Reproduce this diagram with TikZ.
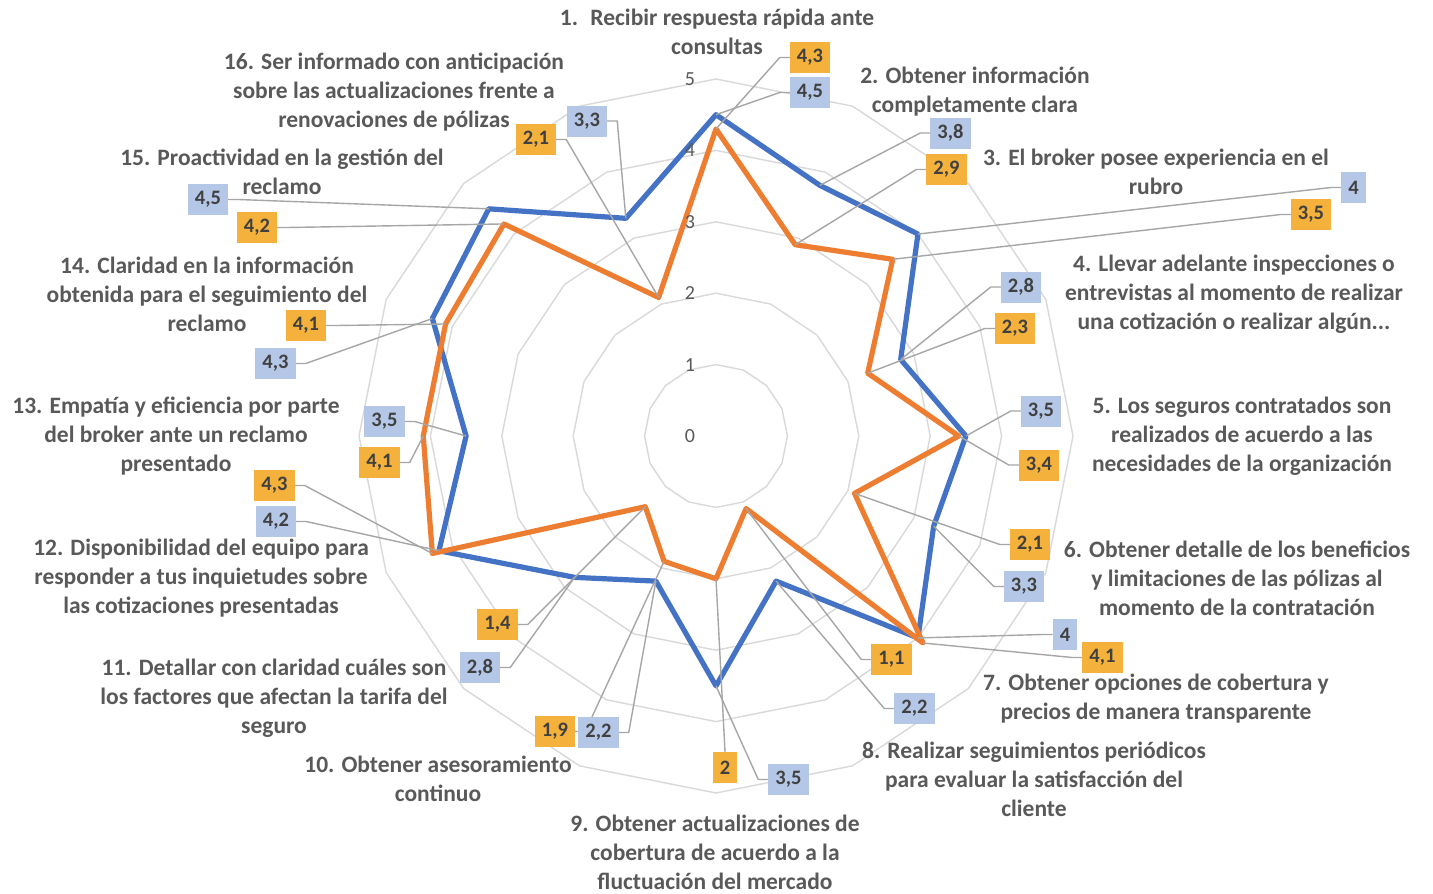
\documentclass[tikz,border=0pt]{standalone}
\usepackage{fontspec}
\setmainfont{Carlito}
\definecolor{cgrid}{HTML}{D9D9D9}
\definecolor{cblue}{HTML}{4472C4}
\definecolor{corange}{HTML}{ED7D31}
\definecolor{clead}{HTML}{A6A6A6}
\definecolor{cbbox}{HTML}{B4C7E7}
\definecolor{cobox}{HTML}{F4B13B}
\definecolor{ctext}{HTML}{595959}
\definecolor{cval}{HTML}{404040}
\pgfdeclarelayer{back}
\pgfsetlayers{back,main}
\newcommand\radpt[3]{\coordinate (#1) at ({716+71.4*(#3)*cos(90-22.5*(#2-1))},{436-71.4*(#3)*sin(90-22.5*(#2-1))});}
\begin{document}
\begin{tikzpicture}[x=1pt,y=-1pt,
  gridline/.style={draw=cgrid,line width=1.4pt},
  blueS/.style={draw=cblue,line width=5.2pt,line join=round},
  orangeS/.style={draw=corange,line width=5.2pt,line join=round},
  leader/.style={draw=clead,line width=1.4pt},
  vbox/.style={text=cval,font=\bfseries\fontsize{20.5}{22}\selectfont,inner xsep=7pt,inner ysep=0pt,minimum height=31pt},
  bbox/.style={vbox,fill=cbbox},
  obox/.style={vbox,fill=cobox},
  cat/.style={text=ctext,align=center,inner sep=0pt,font=\bfseries\fontsize{23.5}{29}\selectfont},
  scl/.style={text=ctext,inner sep=0pt,font=\fontsize{20}{24}\selectfont}]
\useasboundingbox (0,0) rectangle (1433,894);

% data points
\foreach \k/\v in {1/4.5,2/3.8,3/4,4/2.8,5/3.5,6/3.3,7/4,8/2.2,9/3.5,10/2.2,11/2.8,12/4.2,13/3.5,14/4.3,15/4.5,16/3.3}{\radpt{b\k}{\k}{\v}}
\foreach \k/\v in {1/4.3,2/2.9,3/3.5,4/2.3,5/3.4,6/2.1,7/4.1,8/1.1,9/2,10/1.9,11/1.4,12/4.3,13/4.1,14/4.1,15/4.2,16/2.1}{\radpt{o\k}{\k}{\v}}

% scale labels
\foreach \k in {0,...,5}{\node[scl] (s\k) at (690,{436-71.4*\k}) {\k};}

% category labels
\node[cat] (c1) at (717,32) {1.~ Recibir respuesta rápida ante\\consultas};
\node[cat] (c2) at (975,92) {2. Obtener información\\completamente clara};
\node[cat] (c3) at (1156,172) {3. El broker posee experiencia en el\\rubro};
\node[cat] (c4) at (1234,294) {4. Llevar adelante inspecciones o\\entrevistas al momento de realizar\\una cotización o realizar algún...};
\node[cat] (c5) at (1242,436) {5. Los seguros contratados son\\realizados de acuerdo a las\\necesidades de la organización};
\node[cat] (c6) at (1237,578) {6. Obtener detalle de los beneficios\\y limitaciones de las pólizas al\\momento de la contratación};
\node[cat] (c7) at (1156,699) {7. Obtener opciones de cobertura y\\precios de manera transparente};
\node[cat] (c8) at (1034,779) {8. Realizar seguimientos periódicos\\para evaluar la satisfacción del\\cliente};
\node[cat] (c9) at (715,852) {9. Obtener actualizaciones de\\cobertura de acuerdo a la\\fluctuación del mercado};
\node[cat] (c10) at (438,779) {10. Obtener asesoramiento\\continuo};
\node[cat] (c11) at (274,698) {11. Detallar con claridad cuáles son\\los factores que afectan la tarifa del\\seguro};
\node[cat] (c12) at (201,578) {12. Disponibilidad del equipo para\\responder a tus inquietudes sobre\\las cotizaciones presentadas};
\node[cat] (c13) at (176,436) {13. Empatía y eficiencia por parte\\del broker ante un reclamo\\presentado};
\node[cat] (c14) at (207,294) {14. Claridad en la información\\obtenida para el seguimiento del\\reclamo};
\node[cat] (c15) at (282,172) {15. Proactividad en la gestión del\\reclamo};
\node[cat] (c16) at (394,92) {16. Ser informado con anticipación\\sobre las actualizaciones frente a\\renovaciones de pólizas};

% value boxes
\node[bbox] (lb1) at (810,92.5) {4,5};
\node[obox] (lo1) at (810,57.5) {4,3};
\node[bbox] (lb2) at (950.5,133) {3,8};
\node[obox] (lo2) at (946.5,169.5) {2,9};
\node[bbox] (lb3) at (1353.5,187.5) {4};
\node[obox] (lo3) at (1311,214.5) {3,5};
\node[bbox] (lb4) at (1021,287) {2,8};
\node[obox] (lo4) at (1015,328.5) {2,3};
\node[bbox] (lb5) at (1041,411) {3,5};
\node[obox] (lo5) at (1039,465) {3,4};
\node[obox] (lo6) at (1030,544.5) {2,1};
\node[bbox] (lb6) at (1024,586.5) {3,3};
\node[bbox] (lb7) at (1065,634.5) {4};
\node[obox] (lo7) at (1102.5,657.5) {4,1};
\node[obox] (lo8) at (891.5,659.5) {1,1};
\node[bbox] (lb8) at (914.5,708.5) {2,2};
\node[obox] (lo9) at (725,767.5) {2};
\node[bbox] (lb9) at (788.5,779.5) {3,5};
\node[obox] (lo10) at (555,731.5) {1,9};
\node[bbox] (lb10) at (598.5,732.5) {2,2};
\node[obox] (lo11) at (497.5,624.5) {1,4};
\node[bbox] (lb11) at (480,667.5) {2,8};
\node[obox] (lo12) at (274.5,485.5) {4,3};
\node[bbox] (lb12) at (276,521.5) {4,2};
\node[bbox] (lb13) at (384.5,421.5) {3,5};
\node[obox] (lo13) at (379.5,462.5) {4,1};
\node[obox] (lo14) at (306,325.5) {4,1};
\node[bbox] (lb14) at (275.5,363.5) {4,3};
\node[bbox] (lb15) at (208,199.5) {4,5};
\node[obox] (lo15) at (257,227.5) {4,2};
\node[obox] (lo16) at (536,139.5) {2,1};
\node[bbox] (lb16) at (587,121) {3,3};

\begin{pgfonlayer}{back}
\fill[white] (0,0) rectangle (1433,894);
% grid rings
\foreach \r in {1,...,5}{
  \draw[gridline] plot[samples at={0,22.5,...,337.5},variable=\t] ({716+71.4*\r*cos(\t)},{436-71.4*\r*sin(\t)}) -- cycle;
}
% series
\draw[blueS] (b1) \foreach \k in {2,...,16}{ -- (b\k)} -- cycle;
\draw[orangeS] (o1) \foreach \k in {2,...,16}{ -- (o\k)} -- cycle;
% leaders (boxes on the right side)
\foreach \n in {b1,o1,b2,o2,b3,o3,b4,o4,b5,o5,o6,b6,b7,o7,o8,b8,b9}{
  \draw[leader] (l\n.west) -- ++(-10,0) -- (\n);
}
% leaders (boxes on the left side)
\foreach \n in {o10,b10,o11,b11,o12,b12,b13,o13,o14,b14,b15,o15,o16,b16}{
  \draw[leader] (l\n.east) -- ++(10,0) -- (\n);
}
\draw[leader] (lo9.north) -- (o9);
\end{pgfonlayer}
\end{tikzpicture}
\end{document}
